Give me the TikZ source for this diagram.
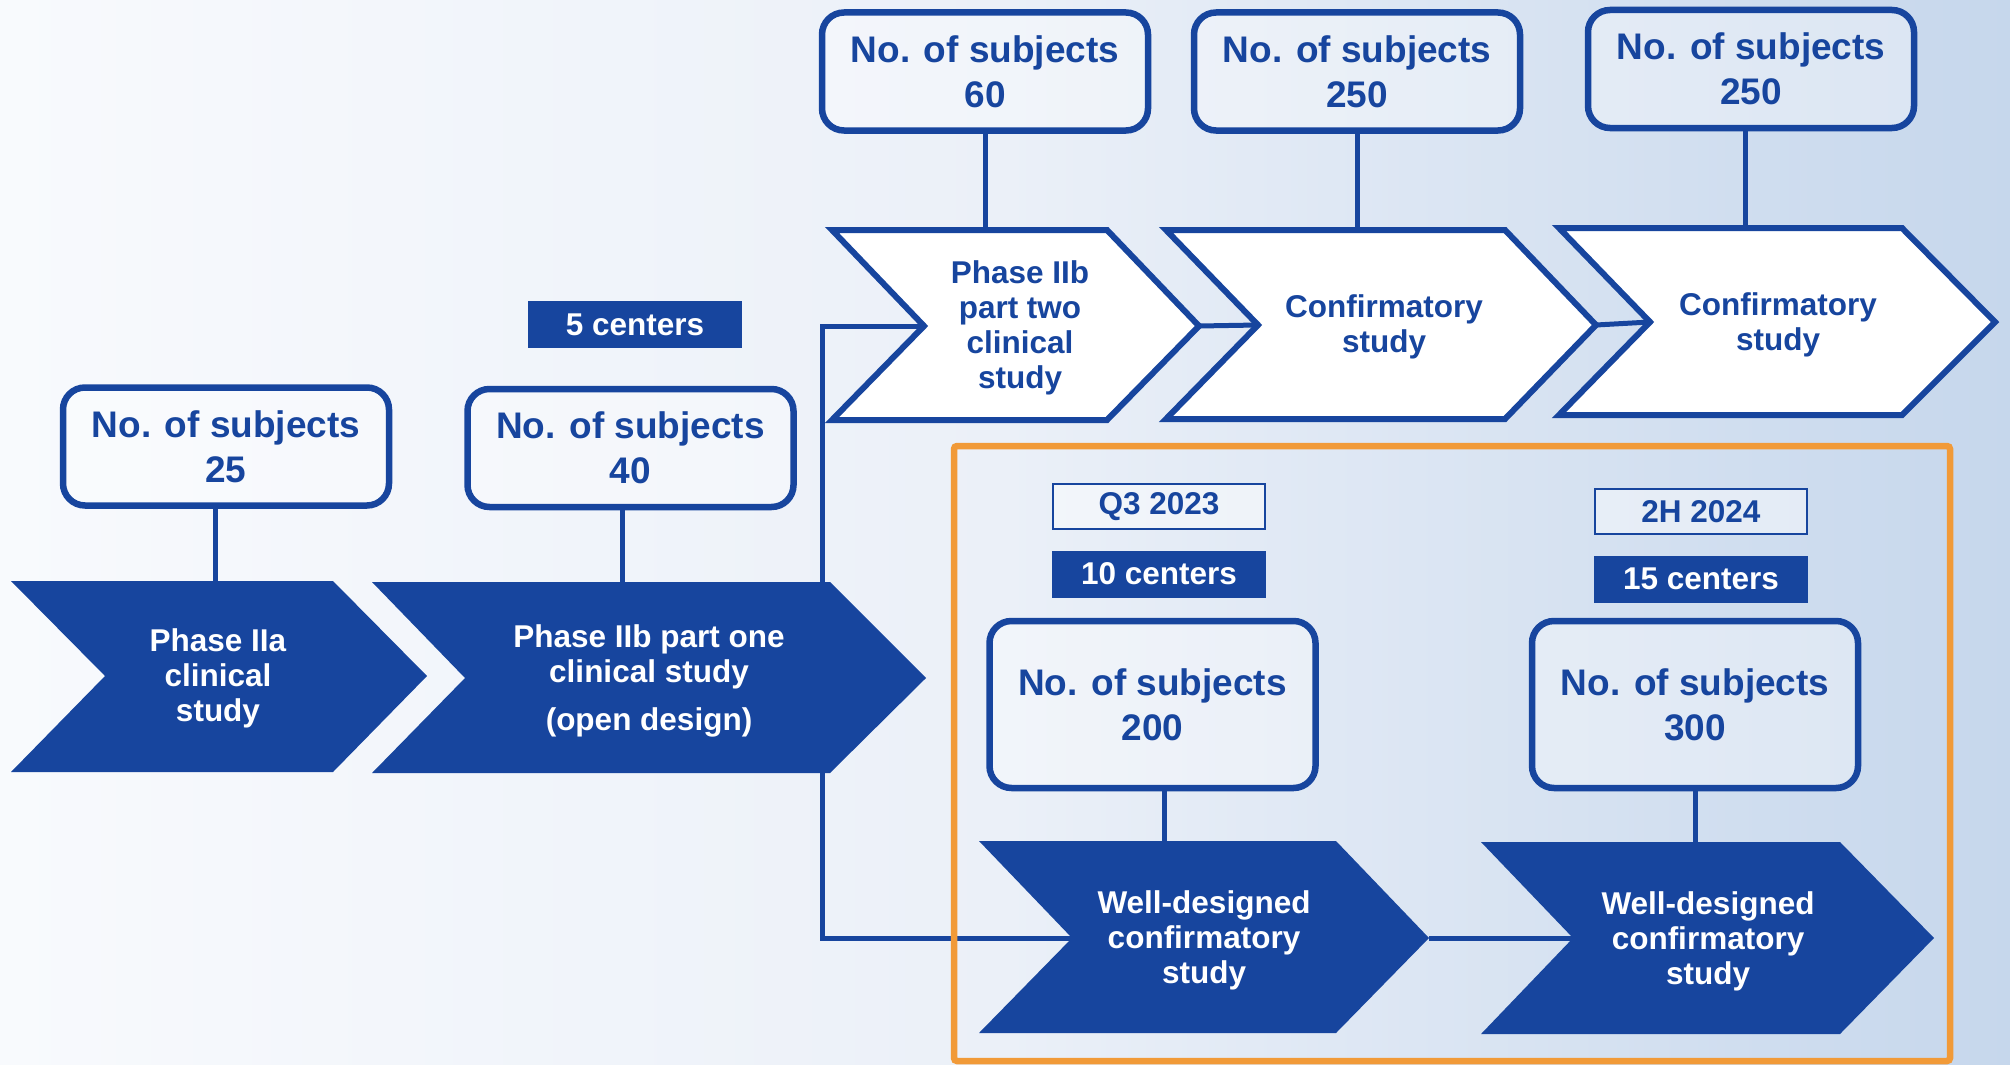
\documentclass[tikz,border=0pt]{standalone}
\usepackage{fontspec}
\setmainfont{Liberation Sans}
\usetikzlibrary{calc}
\definecolor{navy}{RGB}{23,69,158}
\definecolor{orng}{RGB}{241,154,56}
\definecolor{bgl}{RGB}{248,250,253}
\definecolor{bgm}{RGB}{235,240,248}
\definecolor{bgr}{RGB}{198,215,236}
\begin{document}
\begin{tikzpicture}[x=1pt,y=-1pt,
  subj/.style={draw=navy, line width=6.5pt, rounded corners=22pt, fill=white, fill opacity=0.35, text opacity=1,
    minimum width=326pt, minimum height=118pt, inner sep=0pt, align=center, text=navy,
    font=\fontsize{37}{45}\selectfont\bfseries},
  subjtall/.style={subj, minimum height=167pt},
  ctrbox/.style={fill=navy, text=white, minimum width=214pt, minimum height=47pt, inner sep=0pt,
    font=\fontsize{31.5}{35}\selectfont\bfseries},
  datebox/.style={draw=navy, line width=2pt, fill=white, fill opacity=0.45, text opacity=1, text=navy,
    minimum width=212pt, minimum height=45pt, inner sep=0pt, font=\fontsize{31.5}{35}\selectfont\bfseries},
  ctext/.style={align=center, inner sep=0pt, font=\fontsize{31.5}{35}\selectfont\bfseries},
  conn/.style={draw=navy, line width=5pt},
  dchev/.style={fill=navy},
  wchev/.style={fill=white, draw=navy, line width=6pt, line join=miter},
]
\useasboundingbox (0,0) rectangle (2010,1065);
% background
\shade[left color=bgl, right color=bgr, middle color=bgm] (0,0) rectangle (2010,1065);

% key coordinates
\coordinate (c1top) at (215,581);
\coordinate (c2top) at (622,582);
\coordinate (w1top) at (985,230);
\coordinate (w2top) at (1357,230);
\coordinate (w3top) at (1745,228);
\coordinate (wd1top) at (1164,841);
\coordinate (wd2top) at (1695,842);
\coordinate (w1n) at (924,326);
\coordinate (w1t) at (1199,326);
\coordinate (w2n) at (1258,325);
\coordinate (w2t) at (1596,325);
\coordinate (w3n) at (1650,322);
\coordinate (wd1n) at (1072,938);
\coordinate (wd1t) at (1429,938);
\coordinate (wd2n) at (1573,938);
\coordinate (vx) at (822,0);

% boxes
\node[subj] (b25) at (226,446.5) {No. of subjects\\25};
\node[subj] (b40) at (630.5,448) {No. of subjects\\40};
\node[subj] (b60) at (985,71.5) {No. of subjects\\60};
\node[subj] (b250a) at (1357,71.5) {No. of subjects\\250};
\node[subj] (b250b) at (1751,69) {No. of subjects\\250};
\node[subjtall] (b200) at (1152.5,704.5) {No. of subjects\\200};
\node[subjtall] (b300) at (1695,704.5) {No. of subjects\\300};

% connectors
\draw[conn] (b25.south -| c1top) -- (c1top);
\draw[conn] (b40.south -| c2top) -- (c2top);
\draw[conn] (b60.south -| w1top) -- (w1top);
\draw[conn] (b250a.south -| w2top) -- (w2top);
\draw[conn] (b250b.south -| w3top) -- (w3top);
\draw[conn] (b200.south -| wd1top) -- (wd1top);
\draw[conn] (b300.south -| wd2top) -- (wd2top);
\draw[conn, line join=miter] (w1n) -- (w1n -| vx) -- (wd1n -| vx) -- (wd1n);
\draw[conn] (w1t) -- (w2n);
\draw[conn] (w2t) -- (w3n);
\draw[conn] (wd1t) -- (wd2n);

% dark chevrons
\fill[dchev] (11,581) -- (333,581) -- (427,676) -- (333,772) -- (11,772) -- (105,676) -- cycle;
\fill[dchev] (372,582) -- (830,582) -- (926,678) -- (830,773) -- (372,773) -- (465,678) -- cycle;
\fill[dchev] (979,841) -- (1336,841) -- (wd1t) -- (1336,1033) -- (979,1033) -- (wd1n) -- cycle;
\fill[dchev] (1481,842) -- (1840,842) -- (1934,938) -- (1840,1034) -- (1481,1034) -- (wd2n) -- cycle;

% white chevrons
\filldraw[wchev] (832,230) -- (1107,230) -- (w1t) -- (1107,420) -- (832,420) -- (w1n) -- cycle;
\filldraw[wchev] (1166,230) -- (1505,230) -- (w2t) -- (1505,419) -- (1166,419) -- (w2n) -- cycle;
\filldraw[wchev] (1559,228) -- (1902,228) -- (1995,322) -- (1902,415) -- (1559,415) -- (w3n) -- cycle;

% chevron texts
\node[ctext, text=white] (t1) at (218,678) {Phase IIa\\clinical\\study};
\node[ctext, text=white] (t2) at (649,681) {Phase IIb part one\\clinical study\\[13pt](open design)};
\node[ctext, text=navy] (t3) at (1020,327.5) {Phase IIb\\part two\\clinical\\study};
\node[ctext, text=navy] (t4) at (1384,326.5) {Confirmatory\\study};
\node[ctext, text=navy] (t5) at (1778,324.5) {Confirmatory\\study};
\node[ctext, text=white] (t6) at (1204,940.5) {Well-designed\\confirmatory\\study};
\node[ctext, text=white] (t7) at (1708,941.5) {Well-designed\\confirmatory\\study};

% small labels
\node[ctrbox] (c5) at (635,324.5) {5 centers};
\node[datebox] (q3) at (1159,506.5) {Q3 2023};
\node[ctrbox] (c10) at (1159,574) {10 centers};
\node[datebox] (h2) at (1701,511.5) {2H 2024};
\node[ctrbox] (c15) at (1701,579) {15 centers};

% orange frame
\draw[orng, line width=6.5pt, rounded corners=3pt] (954,446) rectangle (1950,1061);
\end{tikzpicture}
\end{document}
